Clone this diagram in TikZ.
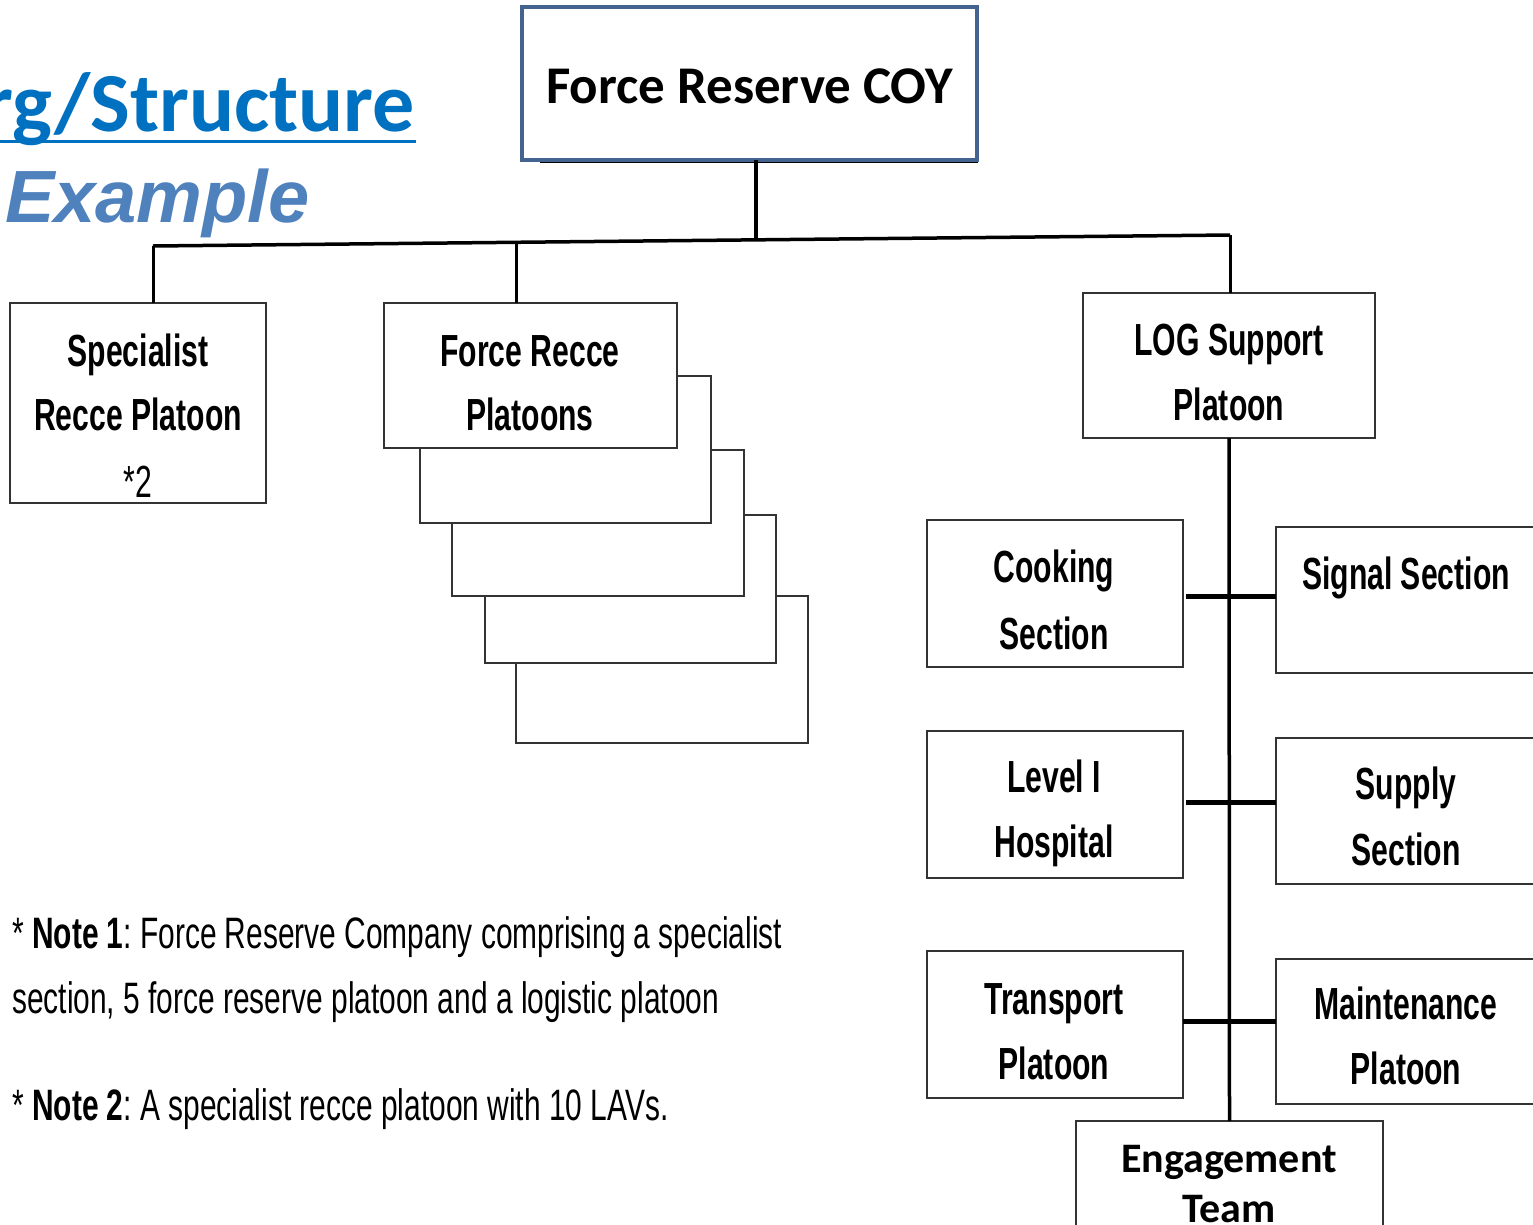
\documentclass[tikz,border=0pt]{standalone}
\usepackage{fontspec}
\setmainfont{Liberation Sans}
\newfontfamily\narrowfont[FakeStretch=0.67]{Liberation Sans}
\newfontfamily\notefont[FakeStretch=0.68]{Liberation Sans}
\newfontfamily\calibfont{Carlito}
\definecolor{titleblue}{HTML}{0070C0}
\definecolor{subblue}{HTML}{4F81BD}
\definecolor{topframe}{HTML}{44648F}
\definecolor{boxgray}{HTML}{333333}
\frenchspacing
\tikzset{
  unitbox/.style={draw=boxgray, line width=2pt, fill=white, inner sep=0pt, outer sep=0pt},
  boxtext/.style={inner sep=0pt, anchor=base, font=\narrowfont\bfseries\fontsize{45}{45}\selectfont},
  notetext/.style={inner sep=0pt, anchor=base west, font=\notefont\fontsize{44}{44}\selectfont},
  headtext/.style={inner sep=0pt, anchor=base, font=\calibfont\bfseries\fontsize{53}{53}\selectfont},
  tree/.style={line width=3.5pt, black},
  branch/.style={line width=3pt, black},
  tie/.style={line width=5pt, black},
}
\begin{document}
\begin{tikzpicture}[x=1pt, y=-1pt]
\useasboundingbox (0,0) rectangle (1533,1224);
\clip (0,0) rectangle (1533,1224);
\fill[white] (0,0) rectangle (1533,1224);

% heading
\node[inner sep=0pt, anchor=base east, text=titleblue,
      font=\calibfont\bfseries\fontsize{84}{84}\selectfont] (title) at (415,131) {rg/Structure};
\draw[titleblue, line width=3pt] (0,141) -- (416,141);
\node[inner sep=0pt, anchor=base west, text=subblue,
      font=\bfseries\itshape\fontsize{74}{74}\selectfont] (sub) at (5,222) {Example};

% company box
\draw[black, line width=2pt] (540,161.5) -- (978,161.5);
\node[unitbox, draw=topframe, line width=4pt, minimum width=455pt, minimum height=153pt] (coy) at (749.5,83.5) {};
\node[headtext] (coyt) at (749.5,103) {Force Reserve COY};

% platoon boxes
\node[unitbox, minimum width=256pt, minimum height=200pt] (spec) at (138,403) {};
\node[unitbox, minimum width=292pt, minimum height=147pt] (frp5) at (662,669.5) {};
\node[unitbox, minimum width=291pt, minimum height=148pt] (frp4) at (630.5,589) {};
\node[unitbox, minimum width=292pt, minimum height=146pt] (frp3) at (598,523) {};
\node[unitbox, minimum width=291pt, minimum height=147pt] (frp2) at (565.5,449.5) {};
\node[unitbox, minimum width=293pt, minimum height=145pt] (frp1) at (530.5,375.5) {};
\node[unitbox, minimum width=292pt, minimum height=145pt] (log) at (1229,365.5) {};

% logistic sections
\node[unitbox, minimum width=256pt, minimum height=147pt] (cook) at (1055,593.5) {};
\node[unitbox, minimum width=269pt, minimum height=146pt] (sig)  at (1410.5,600) {};
\node[unitbox, minimum width=256pt, minimum height=147pt] (lvl)  at (1055,804.5) {};
\node[unitbox, minimum width=269pt, minimum height=146pt] (sup)  at (1410.5,811) {};
\node[unitbox, minimum width=256pt, minimum height=147pt] (trn)  at (1055,1024.5) {};
\node[unitbox, minimum width=269pt, minimum height=145pt] (mnt)  at (1410.5,1031.5) {};
\node[unitbox, minimum width=307pt, minimum height=119pt] (eng)  at (1229.5,1180.5) {};

% box labels
\node[boxtext] (spec1) at (138,366) {Specialist};
\node[boxtext] (spec2) at (138,430) {Recce Platoon};
\node[boxtext, font=\narrowfont\fontsize{45}{45}\selectfont] (spec3) at (138,497) {*2};
\node[boxtext] (frp1a) at (530,366) {Force Recce};
\node[boxtext] (frp1b) at (530,430) {Platoons};
\node[boxtext] (log1) at (1229,355) {LOG Support};
\node[boxtext] (log2) at (1229,420) {Platoon};
\node[boxtext] (cook1) at (1054,582) {Cooking};
\node[boxtext] (cook2) at (1054,649) {Section};
\node[boxtext] (sig1) at (1406,589) {Signal Section};
\node[boxtext] (lvl1) at (1054,792) {Level I};
\node[boxtext] (lvl2) at (1054,857) {Hospital};
\node[boxtext] (sup1) at (1406,799) {Supply};
\node[boxtext] (sup2) at (1406,865) {Section};
\node[boxtext] (trn1) at (1054,1014) {Transport};
\node[boxtext] (trn2) at (1054,1079) {Platoon};
\node[boxtext] (mnt1) at (1406,1019) {Maintenance};
\node[boxtext] (mnt2) at (1406,1084) {Platoon};
\node[headtext, font=\calibfont\bfseries\fontsize{42}{42}\selectfont] (eng1) at (1229,1172) {Engagement};
\node[headtext, font=\calibfont\bfseries\fontsize{42}{42}\selectfont] (eng2) at (1229,1222) {Team};

% tree connectors
\coordinate (busA) at (153,246);
\coordinate (busB) at (516,242.5);
\coordinate (busC) at (756,240);
\coordinate (busD) at (1230,235);
\draw[tree] (busC |- coy.south) -- (busC);
\draw[tree] (busA) -- (busD);
\draw[branch] (busA) -- (busA |- spec.north);
\draw[branch] (busB) -- (busB |- frp1.north);
\draw[branch] (busD) -- (busD |- log.north);
\draw[tree] (log.south) -- (eng.north);
\coordinate (j1) at (1230,596);
\coordinate (j2) at (1230,802);
\coordinate (j3) at (1230,1021);
\draw[tie] ([xshift=3pt]cook.east |- j1) -- (sig.west |- j1);
\draw[tie] ([xshift=3pt]lvl.east |- j2) -- (sup.west |- j2);
\draw[tie] (trn.east |- j3) -- (mnt.west |- j3);

% notes
\node[notetext] (n1a) at (12,948) {* \textbf{Note 1}: Force Reserve Company comprising a specialist};
\node[notetext] (n1b) at (12,1013) {section, 5 force reserve platoon and a logistic platoon};
\node[notetext] (n2) at (12,1120) {* \textbf{Note 2}: A specialist recce platoon with 10 LAVs.};
\end{tikzpicture}
\end{document}
